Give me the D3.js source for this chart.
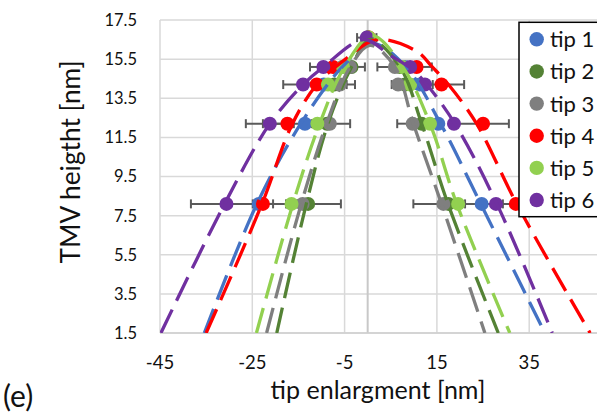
<!DOCTYPE html>
<html><head><meta charset="utf-8">
<script src="https://cdn.jsdelivr.net/npm/d3@7"></script>
<style>html,body{margin:0;padding:0;background:#fff;overflow:hidden}</style>
</head><body><svg id="c" width="597" height="414"></svg>
<script>
// ---------- data ----------
const tipNames  = ["tip 1","tip 2","tip 3","tip 4","tip 5","tip 6"];
const tipColors = ["#4472C4","#548235","#7F7F7F","#FF0000","#92D050","#7030A0"];
const xTicks = [-45,-25,-5,15,35,55];
const yTicks = [1.5,3.5,5.5,7.5,9.5,11.5,13.5,15.5,17.5];

// measured points: TMV height (y) and tip enlargement (x)
const heights = [8.1,12.2,14.2,15.1,16.6,15.1,14.2,12.2,8.1];
const tip1X = [-23.6,-13.6,-9.5,-5.5,0.0,8.1,11.3,15.3,24.7];
const tip2X = [-12.9,-8.8,-7.2,-3.5,0.0,7.0,8.1,11.7,17.5];
const tip3X = [-14.1,-8.2,-6.0,-3.8,0.0,5.9,6.6,9.75,16.4];
const tip4X = [-22.7,-17.4,-11.05,-7.5,0.3,10.6,16.0,25.0,32.1];
const tip5X = [-16.5,-10.9,-8.6,-5.35,0.3,7.6,9.2,13.5,19.6];
const tip6X = [-30.6,-21.2,-14.0,-9.6,-0.2,9.2,12.4,18.7,27.8];

// error bar half widths (x direction)
const tip1Err = [0,0,0,0,0,0,0,0,0];
const tip2Err = [0,0,4.45,0,0,0,0,0,0];
const tip3Err = [8.3,4.4,1.45,3.2,0,3.8,1.4,3.35,0];
const tip4Err = [2.2,5.3,0,0,0,3.3,4.9,5.6,11.0];
const tip5Err = [1.2,0,0,0,0,0,0,0,9.7];
const tip6Err = [7.7,5.2,4.3,2.9,2.1,0,1.7,0,0];

// fitted profiles [x, y]
const tip1Fit = [[-35.4,1.5],[-24.0,8.1],[-14.5,12.2],[-5.5,15.1],[1.0,16.3],[8.3,15.1],[15.8,12.2],[24.5,8.1],[38.4,1.5]];
const tip2Fit = [[-19.7,1.5],[-13.3,8.1],[-8.6,12.2],[-3.5,15.1],[0.5,16.5],[7.0,15.1],[11.7,12.2],[17.4,8.1],[28.3,1.5]];
const tip3Fit = [[-21.9,1.5],[-14.4,8.1],[-8.9,12.2],[-3.8,15.1],[0.5,16.2],[5.9,15.1],[9.9,12.2],[16.0,8.1],[25.4,1.5]];
const tip4Fit = [[-35.0,1.5],[-22.9,8.1],[-16.3,12.2],[-11.0,14.2],[-4.8,15.5],[2.0,16.5],[10.6,15.9],[14.0,15.1],[17.5,14.2],[23.6,12.2],[32.3,8.1],[48.2,1.5]];
const tip5Fit = [[-24.1,1.5],[-16.2,8.1],[-10.4,12.2],[-5.0,15.1],[0.9,16.7],[7.6,15.1],[13.5,12.2],[19.3,8.1],[30.8,1.5]];
const tip6Fit = [[-44.8,1.5],[-31.0,8.1],[-21.2,12.2],[-14.0,14.2],[-9.6,15.1],[-0.8,16.5],[4.8,15.7],[9.5,15.0],[12.8,14.2],[18.9,12.2],[28.0,8.1],[40.0,1.5]];

const tipXs = [tip1X,tip2X,tip3X,tip4X,tip5X,tip6X];
const tipErrs = [tip1Err,tip2Err,tip3Err,tip4Err,tip5Err,tip6Err];
const tipFits = [tip1Fit,tip2Fit,tip3Fit,tip4Fit,tip5Fit,tip6Fit];

// ---------- drawing ----------
const svg = d3.select("#c");
svg.append("rect").attr("width",597).attr("height",414).attr("fill","#fff");
const FONT = "Lato, 'Open Sans', sans-serif";

const x = d3.scaleLinear().domain([-45,55]).range([160,621.5]);
const y = d3.scaleLinear().domain([1.5,17.5]).range([333,20]);

svg.append("clipPath").attr("id","plot").append("rect")
  .attr("x",x(-45)).attr("y",y(17.5)).attr("width",x(55)-x(-45)).attr("height",y(1.5)-y(17.5));

// gridlines
const grid = svg.append("g");
grid.selectAll("line.v").data(xTicks).join("line")
  .attr("x1",d=>x(d)).attr("x2",d=>x(d)).attr("y1",y(17.5)).attr("y2",y(1.5))
  .attr("stroke","#d9d9d9").attr("stroke-width",1.5);
grid.selectAll("line.h").data(yTicks).join("line")
  .attr("x1",x(-45)).attr("x2",x(55)).attr("y1",d=>y(d)).attr("y2",d=>y(d))
  .attr("stroke","#d9d9d9").attr("stroke-width",1.5);
// axis lines
svg.append("line").attr("x1",x(0)).attr("x2",x(0)).attr("y1",y(17.5)).attr("y2",y(1.5))
  .attr("stroke","#c8c8c8").attr("stroke-width",2);
svg.append("line").attr("x1",x(-45)).attr("x2",x(55)).attr("y1",y(1.5)).attr("y2",y(1.5))
  .attr("stroke","#cfcfcf").attr("stroke-width",1.5);

// tick labels
svg.append("g").selectAll("text").data(yTicks).join("text")
  .attr("x",137).attr("y",d=>y(d)).attr("dy","0.36em")
  .attr("text-anchor","end").attr("font-family",FONT).attr("font-size",16.5).attr("fill","#111")
  .text(d=>d.toFixed(1));
svg.append("g").selectAll("text").data(xTicks.filter(d=>x(d)<597)).join("text")
  .attr("x",d=>x(d)).attr("y",362).attr("dy","0.36em")
  .attr("text-anchor","middle").attr("font-family",FONT).attr("font-size",18.5).attr("fill","#111")
  .text(d=>String(d));

// titles (font size fitted to measured widths)
function fitText(sel, target){
  sel.attr("font-size",20);
  const w = sel.node().getComputedTextLength();
  sel.attr("font-size", 20*target/w);
}
const xt = svg.append("text").attr("x",378).attr("y",399).attr("text-anchor","middle")
  .attr("font-family",FONT).attr("fill","#111").text("tip enlargment [nm]");
fitText(xt,215);
const yt = svg.append("text").attr("transform","translate(80,162) rotate(-90)").attr("text-anchor","middle")
  .attr("font-family",FONT).attr("fill","#111").text("TMV heigtht [nm]");
fitText(yt,203);
svg.append("text").attr("x",3).attr("y",407).attr("font-family",FONT).attr("font-size",30).attr("fill","#111").text("(e)");

// error bars
const eb = svg.append("g").attr("stroke","#5a5a5a").attr("stroke-width",2);
tipXs.forEach((xs,i)=>{
  xs.forEach((v,j)=>{
    const e = tipErrs[i][j]; if(!e) return;
    const yy = y(heights[j]);
    eb.append("line").attr("x1",x(v-e)).attr("x2",x(v+e)).attr("y1",yy).attr("y2",yy);
    eb.append("line").attr("x1",x(v-e)).attr("x2",x(v-e)).attr("y1",yy-4.5).attr("y2",yy+4.5);
    eb.append("line").attr("x1",x(v+e)).attr("x2",x(v+e)).attr("y1",yy-4.5).attr("y2",yy+4.5);
  });
});

// markers
tipXs.forEach((xs,i)=>{
  svg.append("g").selectAll("circle").data(xs.map((v,j)=>[v,heights[j]])).join("circle")
    .attr("cx",d=>x(d[0])).attr("cy",d=>y(d[1])).attr("r",7).attr("fill",tipColors[i]);
});

// fitted dashed curves
const line = d3.line().x(d=>x(d[0])).y(d=>y(d[1])).curve(d3.curveCatmullRom.alpha(0.5));
const cg = svg.append("g").attr("clip-path","url(#plot)");
tipFits.forEach((f,i)=>{
  cg.append("path").attr("d",line(f)).attr("fill","none").attr("stroke",tipColors[i])
    .attr("stroke-width",3.3).attr("stroke-dasharray","26,10");
});

// legend
const lg = svg.append("g");
lg.append("rect").attr("x",519).attr("y",22.3).attr("width",100).attr("height",194.4)
  .attr("fill","#fff").attr("stroke","#000").attr("stroke-width",1.5);
tipNames.forEach((n,i)=>{
  const cy = 39.3 + i*32.15;
  lg.append("circle").attr("cx",536.7).attr("cy",cy).attr("r",7.2).attr("fill",tipColors[i]);
  lg.append("text").attr("x",550).attr("y",cy).attr("dy","0.36em").attr("font-family",FONT)
    .attr("font-size",22).attr("fill","#111").text(n);
});
</script></body></html>
